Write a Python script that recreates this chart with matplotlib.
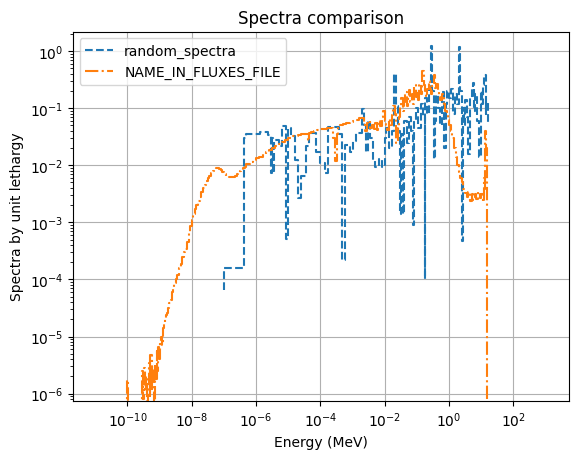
import numpy as np
import matplotlib
matplotlib.use("Agg")
import matplotlib.pyplot as plt

# random_spectra (step, where='pre'): energy points (MeV) and values
random_energy = [
    1.0e-7, 4.2e-7, 5.0e-7, 1.3e-6, 2.3e-6, 2.8e-6, 3.1e-6, 3.4e-6, 3.7e-6, 5.0e-6,
    6.3e-6, 8.5e-6, 1.0e-5, 1.25e-5, 1.6e-5, 2.0e-5, 2.5e-5, 3.5e-5, 4.5e-5, 7.5e-5,
    9.5e-5, 1.35e-4, 1.7e-4, 2.5e-4, 3.8e-4, 4.7e-4, 5.6e-4, 8.0e-4, 1.0e-3, 1.3e-3,
    1.9e-3, 2.2e-3, 2.6e-3, 3.0e-3, 3.5e-3, 4.3e-3, 5.0e-3, 6.5e-3, 8.0e-3, 9.8e-3,
    1.1e-2, 1.4e-2, 1.7e-2, 2.0e-2, 2.25e-2, 2.6e-2, 3.0e-2, 3.3e-2, 3.7e-2, 4.1e-2,
    4.8e-2, 5.5e-2, 6.5e-2, 7.5e-2, 8.3e-2, 9.5e-2, 1.1e-1, 1.3e-1, 1.5e-1, 1.75e-1,
    1.78e-1, 2.0e-1, 2.4e-1, 2.8e-1, 3.0e-1, 3.3e-1, 3.6e-1, 4.0e-1, 4.5e-1, 5.2e-1,
    6.0e-1, 7.0e-1, 8.0e-1, 8.8e-1, 1.0, 1.15, 1.3, 1.5, 1.7, 2.0,
    2.2, 2.6, 2.63, 2.85, 3.2, 3.6, 4.0, 4.5, 5.0, 5.6,
    6.0, 6.6, 7.4, 8.5, 9.8, 10.5, 11.5, 12.5, 13.8, 14.5,
    15.8, 17.4,
]
random_values = [
    6.6e-5, 1.6e-4, 3.0e-2, 3.6e-2, 3.8e-2, 3.4e-2, 7.4e-3, 3.0e-2, 7.4e-3, 2.8e-2,
    2.2e-2, 4.8e-2, 5.2e-4, 4.5e-2, 3.2e-2, 1.25e-2, 2.7e-3, 6.5e-3, 2.2e-2, 3.7e-2,
    1.7e-2, 1.1e-2, 7.4e-3, 4.6e-2, 4.7e-2, 3.5e-2, 2.2e-4, 2.3e-2, 1.7e-2, 2.7e-2,
    3.7e-2, 9.5e-2, 5.0e-2, 1.7e-2, 6.0e-2, 3.0e-2, 1.2e-2, 9.5e-3, 1.3e-2, 9.5e-3,
    3.0e-2, 4.5e-2, 2.0e-2, 4.0e-2, 4.0e-1, 1.1e-1, 4.0e-2, 1.4e-3, 3.5e-2, 1.4e-3,
    6.0e-2, 2.5e-2, 7.0e-2, 4.0e-2, 8.9e-4, 6.0e-2, 1.0e-1, 4.5e-2, 1.2e-1, 7.0e-2,
    1.0e-4, 1.5e-1, 8.0e-2, 2.2e-1, 1.25, 2.0e-1, 1.3e-2, 6.0e-2, 1.7e-1, 1.0e-1,
    5.0e-2, 1.9e-1, 2.0e-2, 1.2e-1, 2.0e-1, 1.5e-1, 2.2e-1, 8.0e-2, 1.8e-1, 1.2e-1,
    1.2, 2.0e-1, 4.8e-4, 1.0e-1, 5.0e-2, 1.4e-1, 7.0e-2, 1.6e-2, 1.5e-1, 2.2e-1,
    2.8e-1, 9.0e-2, 1.8e-1, 6.0e-2, 1.4e-2, 2.0e-1, 1.2e-1, 2.5e-1, 3.8e-1, 8.0e-2,
    1.3e-1, 5.6e-2,
]

# NAME_IN_FLUXES_FILE (step, where='pre'): energy points (MeV) and values
flux_energy = [
    1e-11, 1e-10, 1.07e-10, 1.15e-10, 2.8e-10, 3.0e-10, 3.2e-10, 3.45e-10, 3.7e-10, 4.0e-10,
    4.3e-10, 4.6e-10, 4.9e-10, 5.2e-10, 5.6e-10, 6.0e-10, 6.5e-10, 7.0e-10, 7.4e-10, 8.0e-10,
    8.5e-10, 9.1e-10, 9.8e-10, 1.05e-9, 1.12e-9, 1.2e-9, 1.3e-9, 1.4e-9, 1.5e-9, 1.6e-9,
    1.7e-9, 1.8e-9, 2.0e-9, 2.2e-9, 2.4e-9, 2.6e-9, 2.9e-9, 3.2e-9, 3.5e-9, 4.0e-9,
    4.5e-9, 5.0e-9, 5.6e-9, 6.3e-9, 7.1e-9, 8.0e-9, 9.0e-9, 1.0e-8, 1.12e-8, 1.26e-8,
    1.4e-8, 1.6e-8, 1.8e-8, 2.0e-8, 2.2e-8, 2.5e-8, 2.8e-8, 3.2e-8, 3.5e-8, 4.0e-8,
    4.5e-8, 5.0e-8, 5.6e-8, 6.3e-8, 7.1e-8, 8.0e-8, 9.0e-8, 1.0e-7, 1.12e-7, 1.26e-7,
    1.4e-7, 1.6e-7, 1.8e-7, 2.0e-7, 2.2e-7, 2.5e-7, 2.8e-7, 3.2e-7, 3.5e-7, 4.0e-7,
    4.5e-7, 5.0e-7, 6.3e-7, 8.0e-7, 1.0e-6, 1.26e-6, 1.6e-6, 2.0e-6, 2.5e-6, 3.2e-6,
    4.0e-6, 5.0e-6, 6.3e-6, 8.0e-6, 1.0e-5, 1.26e-5, 1.6e-5, 2.0e-5, 2.5e-5, 3.2e-5,
    4.0e-5, 4.4e-5, 5.0e-5, 6.3e-5, 8.0e-5, 1.0e-4, 1.26e-4, 1.6e-4, 2.0e-4, 2.5e-4,
    2.8e-4, 3.2e-4, 3.5e-4, 4.0e-4, 5.0e-4, 6.3e-4, 8.0e-4, 1.0e-3, 1.26e-3, 1.6e-3,
    2.0e-3, 2.2e-3, 2.5e-3, 2.8e-3, 3.2e-3, 3.5e-3, 4.0e-3, 4.5e-3, 5.0e-3, 5.6e-3,
    6.3e-3, 7.1e-3, 8.0e-3, 8.9e-3, 9.8e-3, 1.07e-2, 1.17e-2, 1.32e-2, 1.48e-2, 1.66e-2,
    1.86e-2, 2.1e-2, 2.3e-2, 2.5e-2, 2.75e-2, 3.0e-2, 3.3e-2, 3.6e-2, 4.0e-2, 4.4e-2,
    4.8e-2, 5.2e-2, 5.8e-2, 6.3e-2, 6.9e-2, 7.6e-2, 8.3e-2, 9.1e-2, 1.0e-1, 1.1e-1,
    1.2e-1, 1.32e-1, 1.45e-1, 1.6e-1, 1.75e-1, 1.9e-1, 2.1e-1, 2.3e-1, 2.5e-1, 2.75e-1,
    3.0e-1, 3.3e-1, 3.6e-1, 4.0e-1, 4.4e-1, 4.8e-1, 5.2e-1, 5.8e-1, 6.3e-1, 6.9e-1,
    7.6e-1, 8.3e-1, 9.1e-1, 1.0, 1.12, 1.26, 1.4, 1.6, 1.8, 2.0,
    2.25, 2.5, 2.8, 3.2, 3.5, 4.0, 4.5, 5.0, 5.6, 6.3,
    7.1, 8.0, 8.9, 10.0, 11.0, 12.0, 12.9, 13.5, 14.1, 14.8,
    15.1, 1000.0,
]
flux_values = [
    0.0, 0.0, 1.7e-6, 0.0, 0.0, 2.5e-6, 8e-7, 2.8e-6, 1.1e-6, 2.0e-6,
    6e-7, 1.5e-6, 3.5e-6, 9e-7, 4.7e-6, 1.2e-6, 2.6e-6, 6e-7, 3.0e-6, 1.8e-6,
    5.5e-6, 2.5e-6, 6.5e-6, 4.0e-6, 8e-6, 1.0e-5, 7e-6, 1.4e-5, 1.7e-5, 2.0e-5,
    2.4e-5, 2.6e-5, 3.2e-5, 3.8e-5, 4.4e-5, 6e-5, 7.5e-5, 8.5e-5, 1.0e-4, 1.2e-4,
    1.6e-4, 1.9e-4, 2.5e-4, 3.0e-4, 3.4e-4, 4.6e-4, 6.5e-4, 8.5e-4, 1.1e-3, 1.4e-3,
    1.7e-3, 2.0e-3, 2.4e-3, 2.8e-3, 3.4e-3, 4.0e-3, 4.6e-3, 5.2e-3, 5.9e-3, 6.6e-3,
    7.4e-3, 8.0e-3, 8.5e-3, 8.9e-3, 9.0e-3, 8.7e-3, 8.2e-3, 7.5e-3, 7.0e-3, 6.6e-3,
    6.4e-3, 6.3e-3, 6.2e-3, 6.2e-3, 6.3e-3, 6.5e-3, 6.9e-3, 7.4e-3, 7.9e-3, 8.4e-3,
    8.9e-3, 9.4e-3, 1.04e-2, 1.12e-2, 1.22e-2, 1.32e-2, 1.42e-2, 1.55e-2, 1.7e-2, 1.85e-2,
    2.0e-2, 2.2e-2, 2.4e-2, 2.6e-2, 2.8e-2, 3.0e-2, 3.2e-2, 3.3e-2, 3.4e-2, 3.5e-2,
    3.6e-2, 2.7e-2, 3.7e-2, 3.8e-2, 4.0e-2, 4.1e-2, 4.3e-2, 4.4e-2, 4.5e-2, 4.5e-2,
    3.0e-2, 1.2e-2, 3.5e-2, 4.8e-2, 5.0e-2, 5.2e-2, 5.5e-2, 5.7e-2, 6.0e-2, 6.3e-2,
    6.7e-2, 6.6e-2, 5.8e-2, 4.0e-2, 5.5e-2, 6.0e-2, 4.5e-2, 5.0e-2, 4.0e-2, 5.5e-2,
    4.2e-2, 6.0e-2, 4.8e-2, 7.0e-2, 9.0e-2, 6.0e-2, 5.0e-2, 4.2e-2, 6.5e-2, 5.0e-2,
    7.5e-2, 1.1e-1, 8.0e-2, 2.5e-2, 4.5e-2, 7.0e-2, 1.1e-1, 1.5e-1, 9.0e-2, 1.3e-1,
    1.9e-1, 1.1e-1, 1.6e-1, 2.1e-1, 1.3e-1, 1.8e-1, 1.2e-1, 2.5e-1, 1.6e-1, 2.0e-1,
    1.4e-1, 2.6e-1, 1.8e-1, 4.5e-1, 2.5e-1, 2.0e-1, 1.6e-1, 2.2e-1, 3.0e-1, 2.2e-1,
    1.8e-1, 2.4e-1, 3.8e-1, 2.3e-1, 2.6e-1, 2.0e-1, 1.6e-1, 1.4e-1, 1.8e-1, 1.5e-1,
    1.2e-1, 9.0e-2, 8.0e-2, 6.3e-2, 5.0e-2, 4.0e-2, 3.0e-2, 2.0e-2, 1.4e-2, 1.0e-2,
    7.5e-3, 6.0e-3, 5.0e-3, 3.8e-3, 3.3e-3, 2.8e-3, 3.4e-3, 2.4e-3, 3.1e-3, 2.5e-3,
    3.2e-3, 2.6e-3, 3.4e-3, 2.7e-3, 3.2e-3, 2.3e-3, 6.0e-3, 3.5e-3, 4.0e-2, 2.0e-2,
    0.0, 0.0,
]

title = "Spectra comparison"
xlabel = "Energy (MeV)"
ylabel = "Spectra by unit lethargy"

fig, ax = plt.subplots(figsize=(6.4, 4.8), dpi=100)
ax.step(random_energy, random_values, where="pre", linestyle="--", label="random_spectra")
ax.step(flux_energy, flux_values, where="pre", linestyle="-.", label="NAME_IN_FLUXES_FILE")
ax.set_xscale("log")
ax.set_yscale("log")
ax.set_xlim(10 ** -11.7, 10 ** 3.72)
ax.set_ylim(7.4e-7, 2.2)
ax.set_title(title)
ax.set_xlabel(xlabel)
ax.set_ylabel(ylabel)
ax.grid(True)
ax.legend(loc="upper left")
fig.savefig("out.png", bbox_inches="tight")
